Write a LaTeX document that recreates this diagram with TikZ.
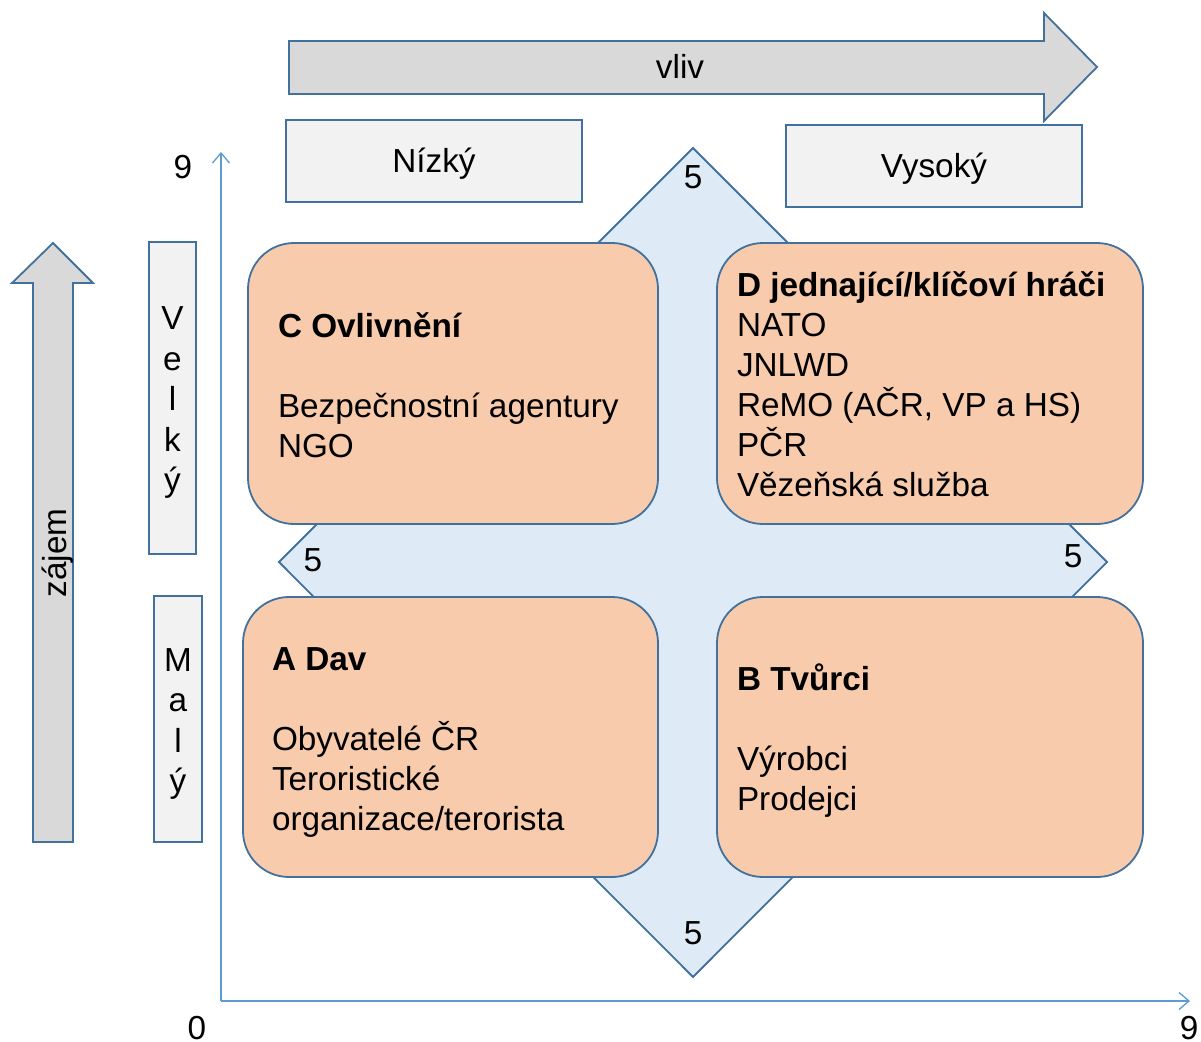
\documentclass[tikz,border=0pt]{standalone}
\usepackage{fontspec}
\setmainfont{Liberation Sans}
\usetikzlibrary{arrows.meta,calc}
\definecolor{edgecol}{HTML}{41719C}
\definecolor{orangefill}{HTML}{F8CBAD}
\definecolor{bluefill}{HTML}{DEEBF7}
\definecolor{grayfill}{HTML}{D9D9D9}
\definecolor{lightfill}{HTML}{F2F2F2}
\definecolor{axiscol}{HTML}{5B9BD5}
\begin{document}
\begin{tikzpicture}[x=1pt,y=-1pt,
  every node/.style={font=\fontsize{33.3}{40}\selectfont, inner sep=0pt, outer sep=0pt},
  qbox/.style={draw=edgecol, line width=1.8pt, fill=orangefill, rounded corners=46pt, rectangle},
  lbox/.style={draw=edgecol, line width=1.8pt, fill=lightfill, rectangle, align=center, text height=23pt, text depth=0pt},
  stack/.style={align=center, anchor=base, font=\fontsize{33.3}{40.5}\selectfont},
  qtext/.style={anchor=base west, align=left},
  bigarrow/.style={draw=edgecol, line width=1.8pt, fill=grayfill, line join=miter},
  diam/.style={draw=edgecol, line width=1.8pt, fill=bluefill},
  axis/.style={draw=axiscol, line width=1.3pt, -{Straight Barb[length=10pt,width=17pt,line width=1.3pt]}},
  num/.style={anchor=center}
]
\useasboundingbox (0,0) rectangle (1201,1041);

% influence arrow
\draw[bigarrow] (289,41) -- (1044,41) -- (1044,13) -- (1097,67) -- (1044,121) -- (1044,94) -- (289,94) -- cycle;
\node[text height=23pt, text depth=0pt] (vliv) at (680,67) {vliv};

% interest arrow
\draw[bigarrow] (33,842) -- (33,283) -- (12,283) -- (53,243) -- (93,283) -- (73,283) -- (73,842) -- cycle;
\node[rotate=90, text height=23pt, text depth=0pt] (zajem) at (55,553) {zájem};

% level boxes
\node[lbox, minimum width=296pt, minimum height=82pt] (low) at (434,161) {Nízký};
\node[lbox, minimum width=296pt, minimum height=82pt] (high) at (934,166) {Vysoký};
\node[lbox, minimum width=47pt, minimum height=312pt] (big) at (172.5,398) {};
\node[lbox, minimum width=48pt, minimum height=246pt] (small) at (178,719) {};
\node[stack] (bigt) at (172.5,491.5) {V\\e\\l\\k\\ý};
\node[stack] (smallt) at (178,792.5) {M\\a\\l\\ý};

% axes
\coordinate (O) at (221,1001);
\coordinate (Ytop) at (221,152);
\coordinate (Xend) at (1190,1001);
\draw[axis] (O) -- (Ytop);
\draw[axis] (O) -- (Xend);
\node[num] (y9) at (183,167) {9};
\node[num] (x0) at (197,1028) {0};
\node[num] (x9) at (1189,1028) {9};

% diamond
\draw[diam] (693,148) -- (1107,562) -- (693,977) -- (279,562) -- cycle;
\node[num] (f1) at (693,177) {5};
\node[num] (f2) at (313,560) {5};
\node[num] (f3) at (1073,556) {5};
\node[num] (f4) at (693,933) {5};

% quadrants
\node[qbox, minimum width=410pt, minimum height=281pt] (C) at (453,383.5) {};
\node[qbox, minimum width=426pt, minimum height=281pt] (D) at (930,383.5) {};
\node[qbox, minimum width=415pt, minimum height=280pt] (A) at (450.5,737) {};
\node[qbox, minimum width=426pt, minimum height=280pt] (B) at (930,737) {};

\node[qtext] (Ct) at (278,457) {\textbf{C Ovlivnění}\\[40pt]Bezpečnostní agentury\\NGO};
\node[qtext] (Dt) at (737,496) {\textbf{D jednající/klíčoví hráči}\\NATO\\JNLWD\\ReMO (AČR, VP a HS)\\PČR\\Vězeňská služba};
\node[qtext] (At) at (272,830) {\textbf{A Dav}\\[40pt]Obyvatelé ČR\\Teroristické\\organizace/terorista};
\node[qtext] (Bt) at (737,810) {\textbf{B Tvůrci}\\[40pt]Výrobci\\Prodejci};
\end{tikzpicture}
\end{document}
